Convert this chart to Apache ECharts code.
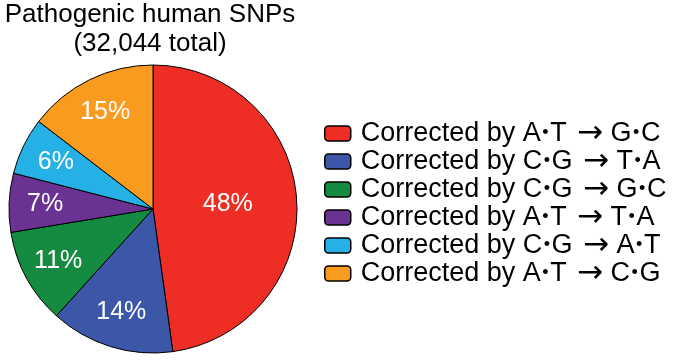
<!DOCTYPE html>
<html>
<head>
<meta charset="utf-8">
<script src="https://cdn.jsdelivr.net/npm/echarts@6/dist/echarts.min.js"></script>
<style>html,body{margin:0;padding:0;background:#fff}#c{width:687px;height:363px}</style>
</head>
<body>
<div id="c"></div>
<script>
var categories = [
  'Corrected by A\u2022T \u2192 G\u2022C',
  'Corrected by C\u2022G \u2192 T\u2022A',
  'Corrected by C\u2022G \u2192 G\u2022C',
  'Corrected by A\u2022T \u2192 T\u2022A',
  'Corrected by C\u2022G \u2192 A\u2022T',
  'Corrected by A\u2022T \u2192 C\u2022G'
];
var values = [47.8, 13.9, 10.7, 6.6, 6.4, 14.6];
var labels = ['48%', '14%', '11%', '7%', '6%', '15%'];
var colors = ['#EE2E24', '#3C57A7', '#158B41', '#6A3393', '#25B1E6', '#F89B1F'];
var titleText = 'Pathogenic human SNPs\n(32,044 total)';

var FONT = '"Liberation Sans", Arial, sans-serif';
var chart = echarts.init(document.getElementById('c'), null, {renderer: 'canvas'});

var mainData = categories.map(function (n, i) {
  return {
    name: n, value: values[i],
    itemStyle: {color: colors[i]},
    label: {show: i === 0, formatter: labels[i]}
  };
});
var labelData = categories.map(function (n, i) {
  return {
    name: n, value: values[i],
    label: {show: i !== 0, formatter: labels[i]}
  };
});

chart.setOption({
  animation: false,
  graphic: [{
    type: 'text', x: 150, y: 0,
    style: {
      text: titleText, textAlign: 'center', textVerticalAlign: 'top',
      fontSize: 26, fontFamily: FONT, fill: '#000', lineHeight: 29
    }
  }],
  legend: {
    orient: 'vertical', left: 324, top: 118, padding: 0,
    itemWidth: 26, itemHeight: 15, itemGap: -3,
    icon: 'roundRect',
    itemStyle: {borderColor: '#000', borderWidth: 1.5},
    formatter: function (n) {
      return n.replace(/\u2022/g, '{b|\u2022}').replace(/\u2192/g, '{a|\u2192}');
    },
    textStyle: {
      fontSize: 27, fontFamily: FONT, color: '#000', lineHeight: 28, padding: [0, 0, 0, 5],
      rich: {
        b: {fontSize: 18, fontFamily: FONT, color: '#000', lineHeight: 28, padding: [0, 1.5, 0, 1.5]},
        a: {fontSize: 31, fontFamily: '"DejaVu Sans", sans-serif', color: '#000', lineHeight: 28, padding: [0, 0, 0, 3]}
      }
    },
    data: categories,
    selectedMode: false
  },
  series: [{
    type: 'pie', center: [153, 209], radius: [0, 144],
    startAngle: 90, clockwise: true,
    avoidLabelOverlap: false,
    itemStyle: {borderColor: '#000', borderWidth: 1},
    label: {position: 'inside', color: '#fff', fontSize: 25, fontFamily: FONT},
    labelLine: {show: false},
    emphasis: {disabled: true},
    data: mainData
  }, {
    type: 'pie', center: [153, 209], radius: [66, 144],
    startAngle: 90, clockwise: true, silent: true,
    avoidLabelOverlap: false,
    itemStyle: {color: 'rgba(0,0,0,0)', borderWidth: 0},
    label: {position: 'inside', color: '#fff', fontSize: 25, fontFamily: FONT},
    labelLine: {show: false},
    emphasis: {disabled: true},
    data: labelData
  }]
});
</script>
</body>
</html>
